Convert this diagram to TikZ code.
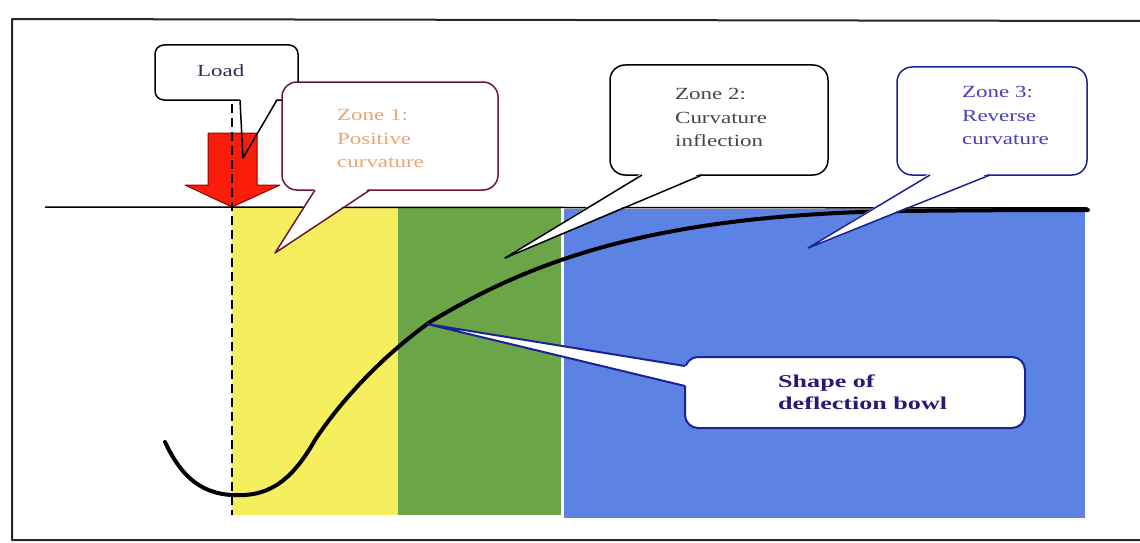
\documentclass[tikz,border=0pt]{standalone}
\usepackage{fontspec}
\setmainfont{Liberation Serif}
\newfontfamily\widefont{Liberation Serif}[FakeStretch=1.35]
\newfontfamily\widebold{Liberation Serif Bold}[FakeStretch=1.45]
\usetikzlibrary{calc}
\definecolor{zyellow}{RGB}{245,238,95}
\definecolor{zgreen}{RGB}{108,165,72}
\definecolor{zblue}{RGB}{92,130,228}
\definecolor{arrowred}{RGB}{250,30,10}
\definecolor{maroon}{RGB}{110,20,55}
\definecolor{navy}{RGB}{25,35,150}
\definecolor{txtorange}{RGB}{235,165,115}
\definecolor{txtgray}{RGB}{70,70,75}
\definecolor{txtblue}{RGB}{70,65,185}
\definecolor{txtnavy}{RGB}{40,25,120}
\definecolor{txtload}{RGB}{45,45,80}
\newcommand\ptrfill[4]{\fill[white] ($(#1)+#4$) -- (#3) -- ($(#2)+#4$) -- cycle;}
\newcommand\ptrline[3]{\draw[callout line] (#1) -- (#3) -- (#2);}
\begin{document}
\begin{tikzpicture}[x=1pt,y=-1pt,line join=round,
  callbox/.style={draw, fill=white, line width=1.5pt, rounded corners=11pt, minimum width=#1},
  callout line/.style={line width=1.5pt},
  ztext/.style={anchor=north west, inner sep=0pt, align=left, font=\widefont\fontsize{17}{23.5}\selectfont}]
\useasboundingbox (0,0) rectangle (1140,543);
\fill[white] (0,0) rectangle (1140,543);
% frame
\draw[line width=2pt, black!85] (1140,21) -- (12,19) -- (12,540) -- (1140,540);
% zones
\fill[zyellow] (232,208) rectangle (398,515);
\fill[zgreen] (398,208) rectangle (561,515);
\fill[zblue] (564,209) rectangle (1085,518);
% ground line
\draw[line width=1.5pt] (45,207) -- (1088,208);
% deflection bowl
\draw[line width=4pt, line cap=round] (165,442)
  .. controls (185,485) and (210,497) .. (245,495)
  .. controls (275,493) and (295,475) .. (315,440)
  .. controls (340,402) and (380,358) .. (430,322)
  .. controls (530,262) and (650,215) .. (900,211)
  .. controls (1000,210) and (1050,210) .. (1088,210);

% Load callout
\node[callbox=143pt, minimum height=55pt, rounded corners=9pt] (load) at (226.5,72.5) {};
\coordinate (lb1) at (240,100); \coordinate (lb2) at (277,100); \coordinate (ltip) at (243,158);
\ptrfill{lb1}{lb2}{ltip}{(0,-2)}
% red arrow
\draw[fill=arrowred, draw=red!55!black, line width=1pt] (208,133) -- (257,133) -- (257,185) -- (280,185) -- (232,207) -- (185,185) -- (208,185) -- cycle;
\ptrline{lb1}{lb2}{ltip}
\node[ztext, text=txtload] (loadtxt) at (197,64.5) {Load};

% dashed load line
\draw[line width=2.5pt, dash pattern=on 9pt off 5pt] (232,104) -- (232,515);

% Zone 1
\node[callbox=216pt, minimum height=108pt, draw=maroon, rounded corners=15pt] (z1) at (390,136) {};
\coordinate (a1) at (315,190); \coordinate (a2) at (370,190); \coordinate (atip) at (275,253);
\ptrfill{a1}{a2}{atip}{(0,-2)}
\draw[callout line, maroon] (a1) -- (atip) -- (a2);
\node[ztext, text=txtorange] (z1txt) at (337,109.5) {Zone 1:\\Positive\\curvature};

% Zone 2
\node[callbox=218pt, minimum height=110pt, rounded corners=15pt] (z2) at (719,120) {};
\coordinate (b1) at (642,175); \coordinate (b2) at (702,175); \coordinate (btip) at (505,258);
\ptrfill{b1}{b2}{btip}{(0,-2)}
\ptrline{b1}{b2}{btip}
\node[ztext, text=txtgray] (z2txt) at (675,88.5) {Zone 2:\\Curvature\\inflection};

% Zone 3
\node[callbox=190pt, minimum height=108pt, draw=navy, rounded corners=15pt] (z3) at (992,121) {};
\coordinate (c1) at (930,175); \coordinate (c2) at (990,175); \coordinate (ctip) at (808,248);
\ptrfill{c1}{c2}{ctip}{(0,-2)}
\draw[callout line, navy] (c1) -- (ctip) -- (c2);
\node[ztext, text=txtblue] (z3txt) at (962,86.5) {Zone 3:\\Reverse\\curvature};

% Shape of deflection bowl
\node[callbox=340pt, minimum height=71pt, draw=navy, line width=2pt, rounded corners=13pt] (shape) at (855,392.5) {};
\coordinate (d1) at (685,366); \coordinate (d2) at (685,386); \coordinate (dtip) at (427,324);
\ptrfill{d1}{d2}{dtip}{(2,0)}
\draw[callout line, navy, line width=2pt] (d1) -- (dtip) -- (d2);
\node[ztext, text=txtnavy, font=\widebold\fontsize{18}{22}\selectfont] (shapetxt) at (778,374.5) {Shape of\\deflection bowl};
\end{tikzpicture}
\end{document}
